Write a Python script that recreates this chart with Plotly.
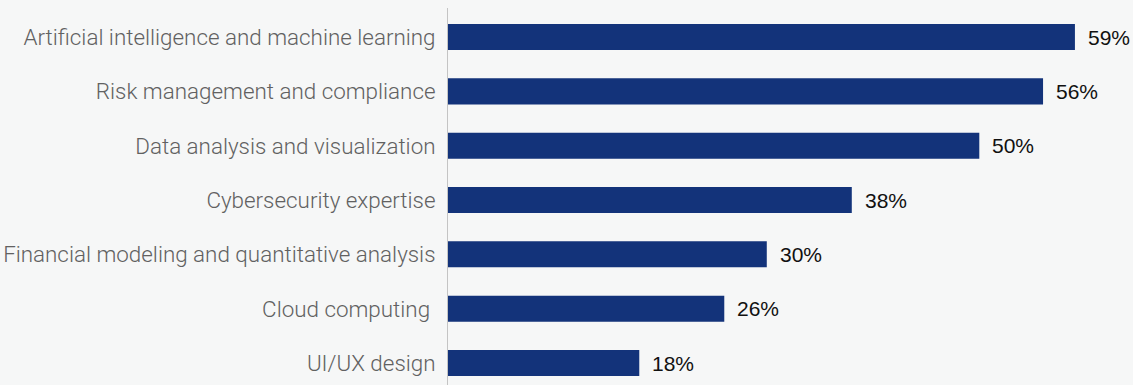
import plotly.graph_objects as go

# Skills in demand, share of respondents (%)
skills = [
    "Artificial intelligence and machine learning",
    "Risk management and compliance",
    "Data analysis and visualization",
    "Cybersecurity expertise",
    "Financial modeling and quantitative analysis",
    "Cloud computing\u00a0",
    "UI/UX design",
]
shares = [59, 56, 50, 38, 30, 26, 18]
share_labels = [f"{v}%" for v in shares]

BAR_COLOR = "#13337a"
BG = "#f6f7f7"

fig = go.Figure(
    go.Bar(
        x=shares,
        y=skills,
        orientation="h",
        marker=dict(color=BAR_COLOR, line=dict(width=0)),
        width=0.48,
        hoverinfo="skip",
    )
)

for s, v, t in zip(skills, shares, share_labels):
    fig.add_annotation(
        x=v, y=s, text=t, showarrow=False,
        xanchor="left", yanchor="middle", xshift=11,
        font=dict(family="Liberation Sans, Arial, sans-serif", size=21, color="#111111"),
    )

fig.update_layout(
    width=1133,
    height=385,
    margin=dict(l=448, r=6, t=8, b=0),
    paper_bgcolor=BG,
    plot_bgcolor=BG,
    showlegend=False,
    bargap=0.52,
    xaxis=dict(
        range=[0, 63.9],
        visible=False,
        fixedrange=True,
    ),
    yaxis=dict(
        categoryorder="array",
        categoryarray=skills,
        range=[6.405, -0.534],
        showline=True,
        linecolor="#c4c4c4",
        linewidth=1,
        showgrid=False,
        zeroline=False,
        ticks="outside",
        ticklen=7,
        tickcolor="rgba(0,0,0,0)",
        tickfont=dict(family="Roboto, Liberation Sans, Arial, sans-serif", size=22.4,
                      color="#616161", weight=300),
        fixedrange=True,
    ),
)

fig.write_html("out.html")
